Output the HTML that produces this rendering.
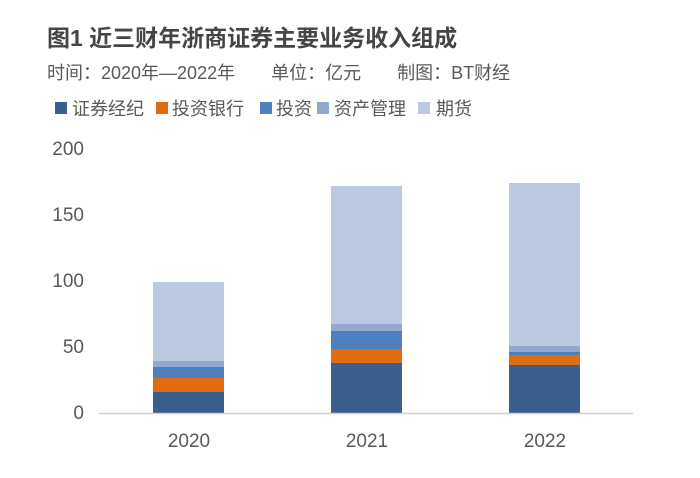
<!DOCTYPE html>
<html><head><meta charset="utf-8"><style>
body{margin:0;background:#fff;}
svg text{font-family:"Liberation Sans","Noto Sans CJK SC",sans-serif;}
</style></head><body>
<svg width="700" height="473" viewBox="0 0 700 473" xmlns="http://www.w3.org/2000/svg">
<rect width="700" height="473" fill="#fff"/>
<text x="47" y="46" font-size="23" font-weight="bold" fill="#454545">图1 近三财年浙商证券主要业务收入组成</text>
<text x="47" y="79" font-size="18" fill="#595959">时间：2020年—2022年　　单位：亿元　　制图：BT财经</text>
<g font-size="18" fill="#595959">
<rect x="55" y="102" width="12" height="12" fill="#3a5f8c"/><text x="72" y="115">证券经纪</text>
<rect x="156" y="102" width="12" height="12" fill="#e06c12"/><text x="172" y="115">投资银行</text>
<rect x="260" y="102" width="12" height="12" fill="#4f7fbf"/><text x="276" y="115">投资</text>
<rect x="317" y="102" width="12" height="12" fill="#92a9cf"/><text x="334" y="115">资产管理</text>
<rect x="418" y="102" width="12" height="12" fill="#bcc9e0"/><text x="436" y="115">期货</text>
</g>
<g font-size="19" fill="#595959" text-anchor="end">
<text x="84" y="155">200</text><text x="84" y="221">150</text><text x="84" y="287">100</text><text x="84" y="353">50</text><text x="84" y="419">0</text>
</g>
<rect x="153" y="282" width="71" height="79" fill="#bcc9e0"/>
<rect x="153" y="361" width="71" height="6" fill="#92a9cf"/>
<rect x="153" y="367" width="71" height="11" fill="#4f7fbf"/>
<rect x="153" y="378" width="71" height="14" fill="#e06c12"/>
<rect x="153" y="392" width="71" height="21" fill="#3a5f8c"/>
<rect x="331" y="186" width="71" height="138" fill="#bcc9e0"/>
<rect x="331" y="324" width="71" height="7" fill="#92a9cf"/>
<rect x="331" y="331" width="71" height="18" fill="#4f7fbf"/>
<rect x="331" y="349" width="71" height="14" fill="#e06c12"/>
<rect x="331" y="363" width="71" height="50" fill="#3a5f8c"/>
<rect x="509" y="183" width="71" height="163" fill="#bcc9e0"/>
<rect x="509" y="346" width="71" height="6" fill="#92a9cf"/>
<rect x="509" y="352" width="71" height="3" fill="#4f7fbf"/>
<rect x="509" y="355" width="71" height="10" fill="#e06c12"/>
<rect x="509" y="365" width="71" height="48" fill="#3a5f8c"/>
<line x1="99" y1="413.5" x2="633" y2="413.5" stroke="#d0d0d0" stroke-width="1.5"/>
<g font-size="19" fill="#595959" text-anchor="middle">
<text x="189" y="447">2020</text><text x="367" y="447">2021</text><text x="545" y="447">2022</text>
</g>
</svg>
</body></html>
